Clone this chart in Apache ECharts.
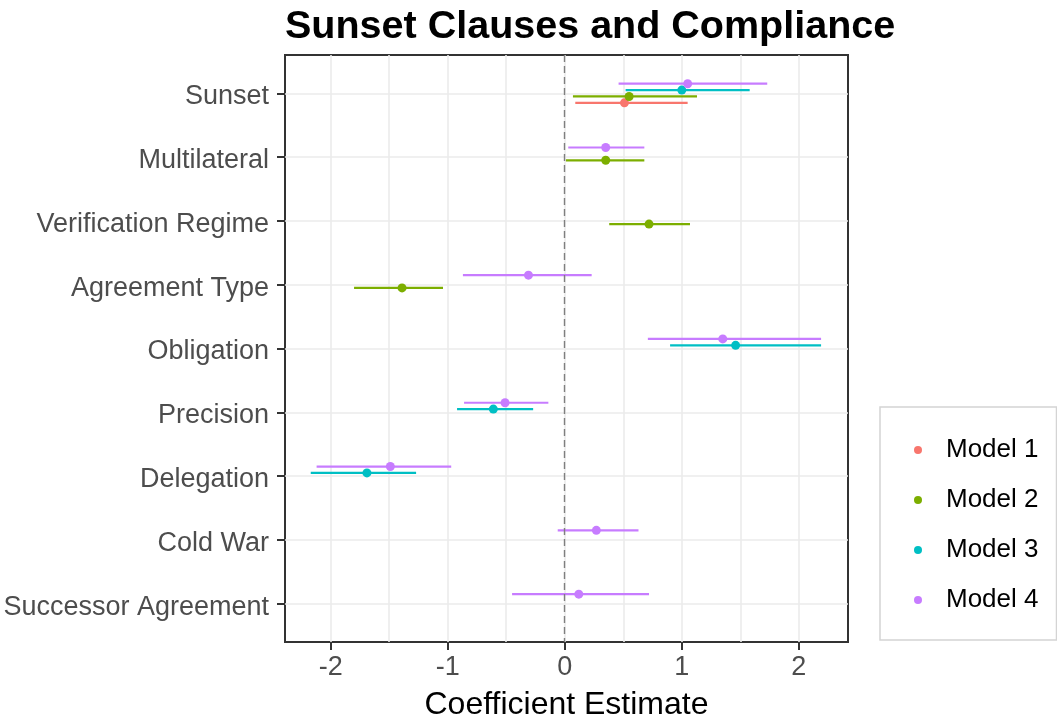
<!DOCTYPE html>
<html>
<head>
<meta charset="utf-8">
<script src="https://cdn.jsdelivr.net/npm/echarts@6/dist/echarts.min.js"></script>
<style>
  html, body { margin: 0; padding: 0; background: #ffffff; }
  #chart { width: 1057px; height: 726px; }
</style>
</head>
<body>
<div id="chart"></div>
<script>
// Coefficient terms, top to bottom
const terms = ['Sunset', 'Multilateral', 'Verification Regime', 'Agreement Type',
  'Obligation', 'Precision', 'Delegation', 'Cold War', 'Successor Agreement'];
const modelNames = ['Model 1', 'Model 2', 'Model 3', 'Model 4'];

// Point estimates and interval bounds per model (null = term not in model)
const model1Est  = [0.51, null, null, null, null, null, null, null, null];
const model1Low  = [0.09, null, null, null, null, null, null, null, null];
const model1High = [1.05, null, null, null, null, null, null, null, null];

const model2Est  = [0.55, 0.35, 0.72, -1.39, null, null, null, null, null];
const model2Low  = [0.07, 0.01, 0.38, -1.80, null, null, null, null, null];
const model2High = [1.13, 0.68, 1.07, -1.04, null, null, null, null, null];

const model3Est  = [1.00, null, null, null, 1.46, -0.61, -1.69, null, null];
const model3Low  = [0.52, null, null, null, 0.90, -0.92, -2.17, null, null];
const model3High = [1.58, null, null, null, 2.19, -0.27, -1.27, null, null];

const model4Est  = [1.05, 0.35, null, -0.31, 1.35, -0.51, -1.49, 0.27, 0.12];
const model4Low  = [0.46, 0.03, null, -0.87, 0.71, -0.86, -2.12, -0.06, -0.45];
const model4High = [1.73, 0.68, null, 0.23, 2.19, -0.14, -0.97, 0.63, 0.72];

// Axis ticks
const xTicks = [-2, -1, 0, 1, 2];
const xMinorBreaks = [-1.5, -0.5, 0.5, 1.5];

const estimates = [model1Est, model2Est, model3Est, model4Est];
const lows = [model1Low, model2Low, model3Low, model4Low];
const highs = [model1High, model2High, model3High, model4High];
const palette = ['#F8766D', '#7CAE00', '#00BFC4', '#C77CFF'];

const dodgeStep = 0.1;   // vertical separation between models within a term
const font = "'Liberation Sans', Arial, sans-serif";
const termIndex = terms.map((_, i) => i);

function rowsFor(m) {
  const rows = [];
  terms.forEach((t, i) => {
    if (estimates[m][i] === null) return;
    const y = i + (1.5 - m) * dodgeStep;
    rows.push([lows[m][i], highs[m][i], y, estimates[m][i]]);
  });
  return rows;
}

const series = [];
// helper series carrying minor grid lines
series.push({
  type: 'scatter', data: [], silent: true, z: 1,
  markLine: {
    silent: true, symbol: 'none', z: 1, animation: false,
    label: { show: false },
    lineStyle: { color: '#ebebeb', width: 1.6, type: 'solid' },
    data: xMinorBreaks.map(v => ({ xAxis: v }))
  }
});
modelNames.forEach((name, m) => {
  const rows = rowsFor(m);
  // horizontal interval bars
  series.push({
    name: name, type: 'custom', z: 2,
    data: rows,
    renderItem: function (params, api) {
      const p1 = api.coord([api.value(0), api.value(2)]);
      const p2 = api.coord([api.value(1), api.value(2)]);
      return {
        type: 'line',
        shape: { x1: p1[0], y1: p1[1], x2: p2[0], y2: p2[1] },
        style: { stroke: palette[m], lineWidth: 2.2 }
      };
    },
    encode: { x: [0, 1], y: 2 },
    animation: false
  });
  // point estimates
  series.push({
    name: name, type: 'scatter', z: 3,
    symbol: 'circle', symbolSize: 9,
    itemStyle: { color: palette[m], opacity: 1 },
    data: rows.map(r => [r[3], r[2]]),
    animation: false
  });
});
// dashed reference line at zero
series.push({
  type: 'scatter', data: [], silent: true, z: 4,
  markLine: {
    silent: true, symbol: 'none', z: 4, animation: false,
    label: { show: false },
    lineStyle: { color: '#7f7f7f', width: 1.4, type: [7, 4] },
    data: [{ xAxis: 0 }]
  }
});

const chart = echarts.init(document.getElementById('chart'), null, { renderer: 'canvas' });
chart.setOption({
  animation: false,
  backgroundColor: '#ffffff',
  title: {
    text: 'Sunset Clauses and Compliance',
    left: 280, top: 2,
    textStyle: { fontFamily: font, fontSize: 39.5, fontWeight: 'bold', color: '#000000' }
  },
  grid: {
    left: 285, right: 209, top: 55, bottom: 84,
    show: true, borderColor: '#333333', borderWidth: 2, backgroundColor: '#ffffff'
  },
  legend: {
    orient: 'vertical', left: 880, top: 407,
    padding: [30, 18, 27, 34],
    itemGap: 24, itemWidth: 46, itemHeight: 8,
    borderColor: '#d4d4d4', borderWidth: 1.5, backgroundColor: '#ffffff',
    textStyle: { fontFamily: font, fontSize: 26, color: '#000000' },
    data: modelNames.map((n, m) => ({ name: n, icon: 'circle', itemStyle: { color: palette[m] } }))
  },
  xAxis: {
    type: 'value', min: -2.39, max: 2.42,
    name: 'Coefficient Estimate', nameLocation: 'middle', nameGap: 47,
    nameTextStyle: { fontFamily: font, fontSize: 32, color: '#000000' },
    axisLine: { show: false, onZero: false },
    axisTick: { show: true, customValues: xTicks, length: 8, lineStyle: { color: '#333333', width: 2 } },
    axisLabel: { customValues: xTicks, margin: 12, fontFamily: font, fontSize: 27, color: '#4d4d4d' },
    splitLine: { show: true, lineStyle: { color: '#ebebeb', width: 1.6 } }
  },
  yAxis: {
    type: 'value', min: -0.6, max: 8.6, inverse: true,
    axisLine: { show: false, onZero: false },
    axisTick: { show: true, customValues: termIndex, length: 8, lineStyle: { color: '#333333', width: 2 } },
    axisLabel: {
      customValues: termIndex, margin: 16,
      fontFamily: font, fontSize: 27, color: '#4d4d4d',
      verticalAlign: 'top', lineHeight: 7,
      formatter: v => terms[Math.round(v)]
    },
    splitLine: { show: true, lineStyle: { color: '#ebebeb', width: 1.6 } }
  },
  series: series
});
</script>
</body>
</html>
